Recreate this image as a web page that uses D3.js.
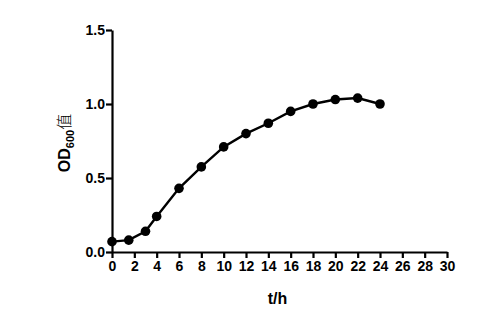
<!DOCTYPE html>
<html>
<head>
<meta charset="utf-8">
<script src="https://cdn.jsdelivr.net/npm/d3@7"></script>
<style>
  body { margin: 0; background: #fff; }
  svg { display: block; }
  .axis text { font-family: "Liberation Sans", Arial, sans-serif; font-weight: bold; font-size: 14px; fill: #000; }
  .axis path, .axis line { stroke: #000; stroke-width: 2.2; }
</style>
</head>
<body>
<svg width="478" height="322"></svg>
<script>
// data
var hours = [0, 1.5, 3, 4, 6, 8, 10, 12, 14, 16, 18, 20, 22, 24];
var od600 = [0.07, 0.08, 0.14, 0.24, 0.43, 0.575, 0.71, 0.80, 0.87, 0.95, 1.00, 1.03, 1.04, 1.00];
var xTicks = d3.range(0, 31, 2);
var yTicks = [0, 0.5, 1.0, 1.5];

var margin = { top: 30, left: 112 };
var width = 335, height = 222;

var svg = d3.select("svg");
var g = svg.append("g")
    .attr("transform", "translate(" + margin.left + "," + margin.top + ")");

var x = d3.scaleLinear().domain([0, 30]).range([0, width]);
var y = d3.scaleLinear().domain([0, 1.5]).range([height, 0]);

// axes
g.append("g")
    .attr("class", "axis")
    .attr("transform", "translate(0," + height + ")")
    .call(d3.axisBottom(x).tickValues(xTicks).tickSize(6).tickSizeOuter(0).tickPadding(2))
    .selectAll("text").attr("dy", "0.75em");

g.append("g")
    .attr("class", "axis")
    .call(d3.axisLeft(y).tickValues(yTicks).tickFormat(d3.format(".1f")).tickSize(6).tickSizeOuter(0).tickPadding(1));

// line + points
var pts = hours.map(function(h, i) { return [h, od600[i]]; });

g.append("path")
    .datum(pts)
    .attr("fill", "none")
    .attr("stroke", "#000")
    .attr("stroke-width", 2.4)
    .attr("d", d3.line()
        .x(d => x(d[0]))
        .y(d => y(d[1])));

g.selectAll(".dot")
    .data(pts)
  .enter().append("circle")
    .attr("class", "dot")
    .attr("cx", d => x(d[0]))
    .attr("cy", d => y(d[1]))
    .attr("r", 4.8)
    .attr("fill", "#000");

// axis titles
svg.append("text")
    .attr("x", margin.left + width / 2 - 2)
    .attr("y", 304)
    .attr("text-anchor", "middle")
    .style("font-family", "Liberation Sans, Arial, sans-serif")
    .style("font-weight", "bold")
    .style("font-size", "16px")
    .text("t/h");

var yt = svg.append("text")
    .attr("transform", "translate(70,143) rotate(-90)")
    .attr("text-anchor", "middle")
    .style("font-family", "Liberation Sans, Arial, sans-serif")
    .style("font-size", "16px");
yt.append("tspan").style("font-weight", "bold").text("OD");
yt.append("tspan").style("font-weight", "bold").style("font-size", "11px").attr("dy", 4).text("600");
yt.append("tspan").attr("dy", -4).style("font-family", "Noto Sans CJK SC").style("font-weight", "300").text("值");
</script>
</body>
</html>
